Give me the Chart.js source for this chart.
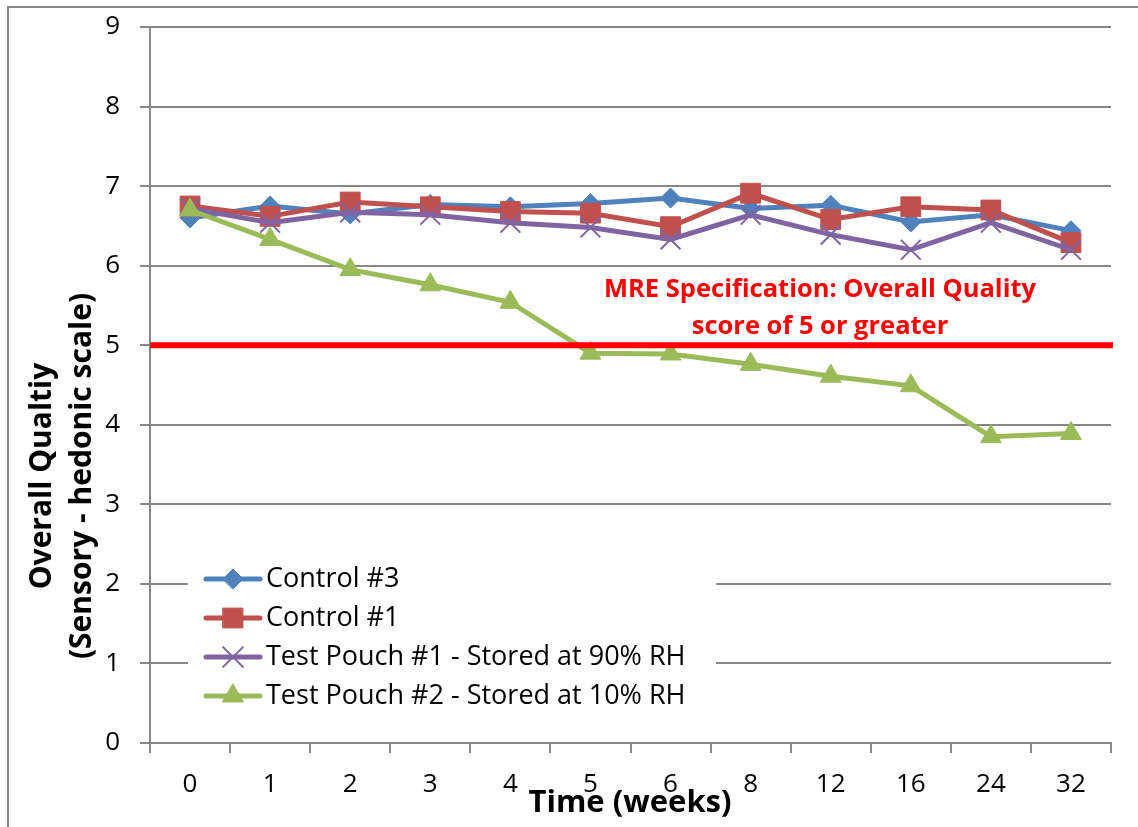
<!DOCTYPE html>
<html>
<head>
<meta charset="utf-8">
<script src="https://cdn.jsdelivr.net/npm/chart.js@4"></script>
<style>
  html, body { margin: 0; padding: 0; background: #fff; }
  #wrap { width: 1138px; height: 827px; position: relative; }
</style>
</head>
<body>
<div id="wrap"><canvas id="qualityChart" width="1138" height="827"></canvas></div>
<script>
// weeks of storage
const weeks = ["0", "1", "2", "3", "4", "5", "6", "8", "12", "16", "24", "32"];

// overall quality scores
const control3 = [6.60, 6.75, 6.65, 6.77, 6.74, 6.78, 6.85, 6.72, 6.76, 6.55, 6.64, 6.44];
const control1 = [6.75, 6.62, 6.80, 6.74, 6.68, 6.66, 6.49, 6.91, 6.58, 6.74, 6.70, 6.29];
const pouch90 = [6.72, 6.54, 6.67, 6.64, 6.54, 6.48, 6.33, 6.64, 6.39, 6.20, 6.54, 6.20];
const pouch10 = [6.70, 6.33, 5.95, 5.76, 5.54, 4.90, 4.89, 4.76, 4.61, 4.49, 3.85, 3.89];

const seriesNames = ["Control #3", "Control #1", "Test Pouch #1 - Stored at 90% RH", "Test Pouch #2 - Stored at 10% RH"];
const specLimit = 5;
const specText = ["MRE Specification: Overall Quality", "score of 5 or greater"];

const FONT = "'Open Sans', 'DejaVu Sans', sans-serif";
const GRID = "#878787";

const makeSet = (label, data, color, style, radius, order) => ({
  label: label,
  data: data,
  borderColor: color,
  backgroundColor: color,
  borderWidth: 5,
  pointStyle: style,
  pointRadius: radius,
  pointBackgroundColor: color,
  pointBorderColor: color,
  pointBorderWidth: style === "crossRot" ? 2 : 1,
  tension: 0,
  order: order
});

// spec line + annotation, titles, legend, outer frame
const extrasPlugin = {
  id: "extras",
  afterDatasetsDraw(chart) {
    const ctx = chart.ctx;
    const area = chart.chartArea;
    const y = chart.scales.y.getPixelForValue(specLimit);
    ctx.save();
    ctx.strokeStyle = "#ff0000";
    ctx.lineWidth = 6;
    ctx.beginPath();
    ctx.moveTo(area.left, y);
    ctx.lineTo(area.right + 2, y);
    ctx.stroke();

    ctx.fillStyle = "#ff0000";
    ctx.font = "bold 25.5px " + FONT;
    ctx.textAlign = "center";
    ctx.textBaseline = "middle";
    ctx.fillText(specText[0], 820, y - 55);
    ctx.fillText(specText[1], 820, y - 18);
    ctx.restore();
  },
  afterDraw(chart) {
    const ctx = chart.ctx;
    const H = Chart.helpers;
    ctx.save();

    // outer frame (only left/top edges visible)
    ctx.strokeStyle = GRID;
    ctx.lineWidth = 2;
    ctx.beginPath();
    ctx.moveTo(8, 840);
    ctx.lineTo(8, 7);
    ctx.lineTo(1150, 7);
    ctx.stroke();

    // axis titles
    ctx.fillStyle = "#000";
    ctx.textAlign = "center";
    ctx.textBaseline = "middle";
    ctx.font = "bold 31px " + FONT;
    ctx.fillText("Time (weeks)", 630, 803);

    ctx.save();
    ctx.translate(42, 476);
    ctx.rotate(-Math.PI / 2);
    ctx.font = "bold 30px " + FONT;
    ctx.fillText("Overall Qualtiy", 0, 0);
    ctx.fillText("(Sensory - hedonic scale)", 0, 40);
    ctx.restore();

    // legend inside plot
    ctx.fillStyle = "#fff";
    ctx.fillRect(188, 558, 528, 158);
    const rows = [579, 618, 657, 696];
    chart.data.datasets.forEach((ds, i) => {
      const ry = rows[i];
      ctx.strokeStyle = ds.borderColor;
      ctx.lineWidth = 5;
      ctx.lineCap = "round";
      ctx.beginPath();
      ctx.moveTo(206, ry);
      ctx.lineTo(260, ry);
      ctx.stroke();
      ctx.fillStyle = ds.borderColor;
      ctx.strokeStyle = ds.borderColor;
      ctx.lineWidth = ds.pointBorderWidth;
      H.drawPoint(ctx, { pointStyle: ds.pointStyle, radius: ds.pointRadius, rotation: 0, borderWidth: ds.pointBorderWidth }, 233, ry);
      ctx.fillStyle = "#000";
      ctx.font = "27px " + FONT;
      ctx.textAlign = "left";
      ctx.fillText(seriesNames[i], 266, ry);
    });
    ctx.restore();
  }
};

new Chart(document.getElementById("qualityChart").getContext("2d"), {
  type: "line",
  data: {
    labels: weeks,
    datasets: [
      makeSet(seriesNames[0], control3, "#4F81BD", "rectRot", 10, 4),
      makeSet(seriesNames[1], control1, "#C0504D", "rect", 14, 3),
      makeSet(seriesNames[2], pouch90, "#8064A2", "crossRot", 14, 2),
      makeSet(seriesNames[3], pouch10, "#9BBB59", "triangle", 12, 1)
    ]
  },
  options: {
    responsive: false,
    animation: false,
    layout: { padding: { left: 0, top: 27, right: 27, bottom: 0 } },
    plugins: {
      legend: { display: false },
      tooltip: { enabled: false }
    },
    scales: {
      x: {
        offset: true,
        grid: { offset: true, drawOnChartArea: false, color: GRID, lineWidth: 2, tickLength: 10 },
        border: { color: GRID, width: 2 },
        ticks: { color: "#000", font: { family: FONT, size: 26 }, padding: 16, maxRotation: 0, autoSkip: false },
        afterFit(scale) { scale.height = 84; }
      },
      y: {
        min: 0,
        max: 9,
        ticks: { stepSize: 1, color: "#000", font: { family: FONT, size: 26 }, padding: 20 },
        grid: { color: GRID, lineWidth: 2, tickLength: 10 },
        border: { color: GRID, width: 2 },
        afterFit(scale) {
          scale.width = 150;
          scale.paddingTop = 0;
          scale.paddingBottom = 0;
        }
      }
    }
  },
  plugins: [extrasPlugin]
});
</script>
</body>
</html>
